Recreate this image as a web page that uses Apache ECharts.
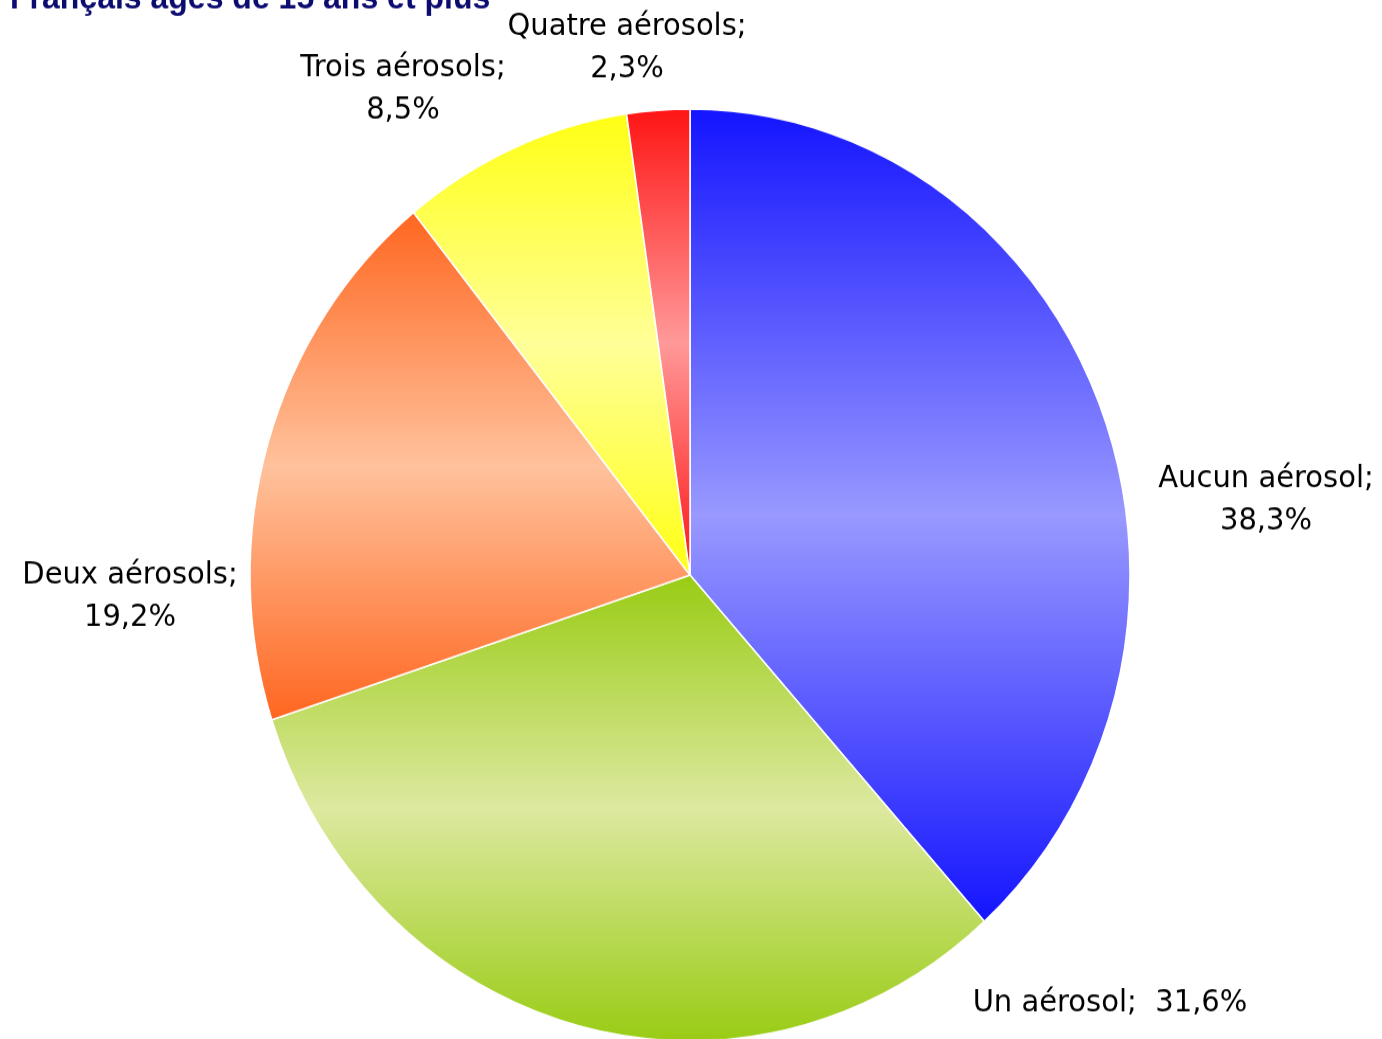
<!DOCTYPE html>
<html>
<head>
<meta charset="utf-8">
<script src="https://cdn.jsdelivr.net/npm/echarts@6/dist/echarts.min.js"></script>
<style>
  html, body { margin: 0; padding: 0; background: #fff; overflow: hidden; }
  /* the original pie is a little taller than wide */
  #chart { width: 1382px; height: 1039px; transform: scaleY(1.059); transform-origin: 690px 575px; }
</style>
</head>
<body>
<div id="chart"></div>
<script>
const categories = ['Aucun aérosol', 'Un aérosol', 'Deux aérosols', 'Trois aérosols', 'Quatre aérosols'];
const values = [38.3, 31.6, 19.2, 8.5, 2.3];
// [edge colour, middle colour] for each slice's vertical gradient
const sliceColors = [
  ['#1414ff', '#9999ff'],
  ['#99cc14', '#dde9a0'],
  ['#ff6620', '#ffc29c'],
  ['#ffff14', '#ffff99'],
  ['#ff1414', '#ff9999']
];

const CX = 690;
const CY = 575;
// label centres, relative to the pie centre (before the vertical stretch)
const labelOffsets = [
  [576, -71],
  [420, 404],
  [-560, 20],
  [-287, -459],
  [-63, -498]
];

function fmt(v) {
  return v.toFixed(1).replace('.', ',') + '%';
}

function gradient(pair) {
  return new echarts.graphic.LinearGradient(0, 0, 0, 1, [
    { offset: 0, color: pair[0] },
    { offset: 0.5, color: pair[1] },
    { offset: 1, color: pair[0] }
  ]);
}

const chart = echarts.init(document.getElementById('chart'));

const pieData = categories.map((name, i) => ({
  name: name,
  value: values[i],
  itemStyle: { color: gradient(sliceColors[i]) }
}));

chart.setOption({
  animation: false,
  title: {
    text: 'Français âgés de 15 ans et plus',
    left: 5,
    top: 10,
    textStyle: {
      color: '#0c0c70',
      fontFamily: 'Liberation Sans',
      fontWeight: 'bold',
      fontSize: 32
    }
  },
  series: [
    {
      type: 'pie',
      center: [CX, CY],
      radius: 440,
      startAngle: 90,
      clockwise: true,
      avoidLabelOverlap: false,
      data: pieData,
      itemStyle: {
        borderColor: '#ffffff',
        borderWidth: 1.5
      },
      label: {
        show: true,
        position: 'outside',
        fontFamily: 'DejaVu Sans',
        fontSize: 29,
        lineHeight: 40,
        color: '#000',
        align: 'center',
        formatter: (p) => p.dataIndex === 1
          ? p.name + ';  ' + fmt(p.value)
          : p.name + ';\n' + fmt(p.value)
      },
      labelLine: { show: false },
      labelLayout: (params) => {
        const off = labelOffsets[params.dataIndex];
        return {
          x: CX + off[0],
          y: CY + off[1],
          align: 'center',
          verticalAlign: 'middle',
          hideOverlap: false
        };
      }
    }
  ]
});
</script>
</body>
</html>
